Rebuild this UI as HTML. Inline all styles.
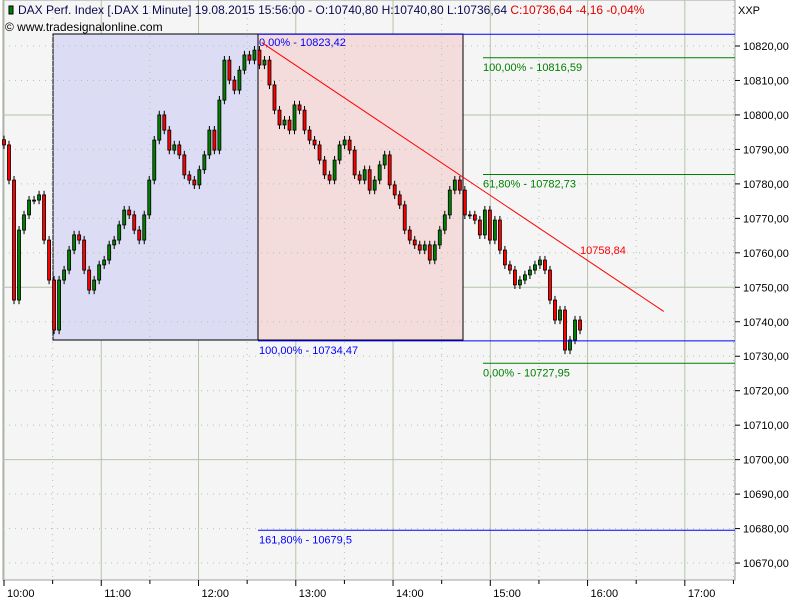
<!DOCTYPE html>
<html><head><meta charset="utf-8"><style>
body{margin:0;background:#fff;font-family:"Liberation Sans",sans-serif}
svg text{font-family:"Liberation Sans",sans-serif;font-size:11px}
</style></head><body>
<svg id="c" width="800" height="600" xmlns="http://www.w3.org/2000/svg">
<rect x="0" y="0" width="800" height="600" fill="#ffffff"/>
<rect x="3" y="0" width="732" height="580" fill="#f5f5f5" stroke="#a0a0a0"/>
<g id="grid"></g>
<rect x="53" y="34" width="205" height="306" fill="#dcdcf4" stroke="#000"/>
<rect x="258" y="34" width="205" height="306" fill="#f4dcdc" stroke="#000"/>
<g id="griddots"></g>
<g id="candles"></g>
<g id="fib"></g>
<g id="axes"></g>
<text x="18" y="14" fill="#000" style="font-size:12px"><tspan fill="#0a0a50">DAX Perf. Index [.DAX  1 Minute] 19.08.2015 15:56:00 - O:10740,80 H:10740,80 L:10736,64 </tspan><tspan fill="#e00000">C:10736,64 -4,16 -0,04%</tspan></text>
<rect x="9" y="6" width="4" height="8" fill="#008000" stroke="#000"/>
<text x="5" y="31" fill="#000" style="font-size:12px">© www.tradesignalonline.com</text>
<text x="738" y="14" fill="#000">XXP</text>
</svg>
<script>
const closes=[10791.3,10781.1,10746.3,10766.6,10771.0,10775.3,10775.3,10776.8,10763.7,10752.1,10737.6,10752.1,10755.0,10760.8,10765.2,10763.7,10755.0,10749.2,10752.1,10756.5,10757.9,10762.3,10763.7,10768.1,10772.4,10771.0,10766.6,10763.7,10771.0,10781.1,10792.7,10800.0,10795.6,10789.8,10791.3,10788.4,10782.6,10781.1,10779.7,10784.1,10788.4,10795.6,10789.8,10804.3,10815.9,10810.1,10807.2,10813.0,10817.4,10815.9,10818.8,10814.5,10815.9,10808.7,10801.4,10797.1,10798.5,10795.6,10802.9,10801.4,10795.6,10792.7,10791.3,10786.9,10782.6,10781.1,10786.9,10791.3,10792.7,10789.8,10782.6,10781.1,10784.1,10778.2,10781.1,10785.5,10788.4,10779.7,10776.8,10773.9,10766.6,10763.7,10762.3,10760.8,10762.3,10757.9,10762.3,10766.6,10771.0,10778.2,10781.1,10778.2,10771.0,10771.0,10769.5,10765.2,10772.4,10763.7,10769.5,10760.8,10756.5,10755.0,10750.7,10752.1,10753.6,10755.0,10756.5,10757.9,10755.0,10746.3,10740.5,10743.4,10731.8,10734.7,10740.5,10737.6];
const priceTicks=[10670,10680,10690,10700,10710,10720,10730,10740,10750,10760,10770,10780,10790,10800,10810,10820];
const timeLabels=["10:00","11:00","12:00","13:00","14:00","15:00","16:00","17:00"];
const fibBlue=[10823.42,10734.47,10679.5];
const fibBlueLabels=["0,00% - 10823,42","100,00% - 10734,47","161,80% - 10679,5"];
const fibGreen=[10816.59,10782.73,10727.95];
const fibGreenLabels=["100,00% - 10816,59","61,80% - 10782,73","0,00% - 10727,95"];
const trendPrices=[10821.0,10743.0];
const trendMinutes=[159,407];
const minuteStep=3.09;
const NS="http://www.w3.org/2000/svg";
const y=p=>46+(10820-p)*3.447;
const x=m=>4+m*1.621;
function mk(parent,tag,attrs){const e=document.createElementNS(NS,tag);for(const k in attrs)e.setAttribute(k,attrs[k]);document.getElementById(parent).appendChild(e);return e;}
for(let h=0;h<8;h++){
  const l=mk('grid','line',{x1:x(h*60),x2:x(h*60),y1:0,y2:580,stroke:'#b4c4ac'});
  
  
  const d=mk('griddots','line',{x1:x(h*60+30),x2:x(h*60+30),y1:0,y2:580,stroke:'#b4c4ac','stroke-dasharray':'1,5'});
  
  
  const t=mk('axes','line',{x1:x(h*60),x2:x(h*60),y1:580,y2:586,stroke:'#000'});
  
  
  const t2=mk('axes','line',{x1:x(h*60+30),x2:x(h*60+30),y1:580,y2:584,stroke:'#000'});
  
  
  const tx=mk('axes','text',{x:x(h*60)+3,y:597,fill:'#000'});tx.textContent=timeLabels[h];
  
  
}
priceTicks.forEach(p=>{
  const solid=p%50===0;
  const g=mk(solid?'grid':'griddots','line',{x1:3,x2:735,y1:y(p),y2:y(p),stroke:'#b4c4ac','stroke-dasharray':solid?'none':'1,5'});
  
  
  const t=mk('axes','line',{x1:735,x2:740,y1:y(p),y2:y(p),stroke:'#000'});
  
  
  const tx=mk('axes','text',{x:743,y:y(p)+4,fill:'#000'});tx.textContent=p.toFixed(2).replace('.',',');
  
  
});
let prev=closes[0]+1.5;
closes.forEach((c,i)=>{
  const o=prev,up=c>=o,cx=x(i*minuteStep);
  const hi=Math.max(o,c)+1.2,lo=Math.min(o,c)-1.2;
  const w=mk('candles','line',{x1:cx,x2:cx,y1:y(hi),y2:y(lo),stroke:'#000'});
  
  
  const top=y(Math.max(o,c)),bh=Math.max(1,Math.abs(y(o)-y(c)));
  const b=mk('candles','rect',{x:cx-1.5,y:top,width:3,height:bh,fill:up?'#008000':'#ff0000',stroke:'#000','stroke-width':0.8});
  
  
  prev=c;
});
const bx=[258,258,258];
fibBlue.forEach((p,i)=>{
  const l=mk('fib','line',{x1:bx[i],x2:735,y1:y(p),y2:y(p),stroke:'#0000ff'});
  
  
  const t=mk('fib','text',{x:bx[i]+1,y:y(p)+(i===0?12:13),fill:'#0000ff'});t.textContent=fibBlueLabels[i];
  
  
});
fibGreen.forEach((p,i)=>{
  const l=mk('fib','line',{x1:483,x2:735,y1:y(p),y2:y(p),stroke:'#008000'});
  
  
  const t=mk('fib','text',{x:483,y:y(p)+13,fill:'#008000'});t.textContent=fibGreenLabels[i];
  
  
});
const tl=mk('fib','line',{x1:x(trendMinutes[0]),y1:y(trendPrices[0]),x2:x(trendMinutes[1]),y2:y(trendPrices[1]),stroke:'#ff0000'});


const tt=mk('fib','text',{x:580,y:254,fill:'#ff0000'});tt.textContent='10758,84';


</script>
</body></html>
